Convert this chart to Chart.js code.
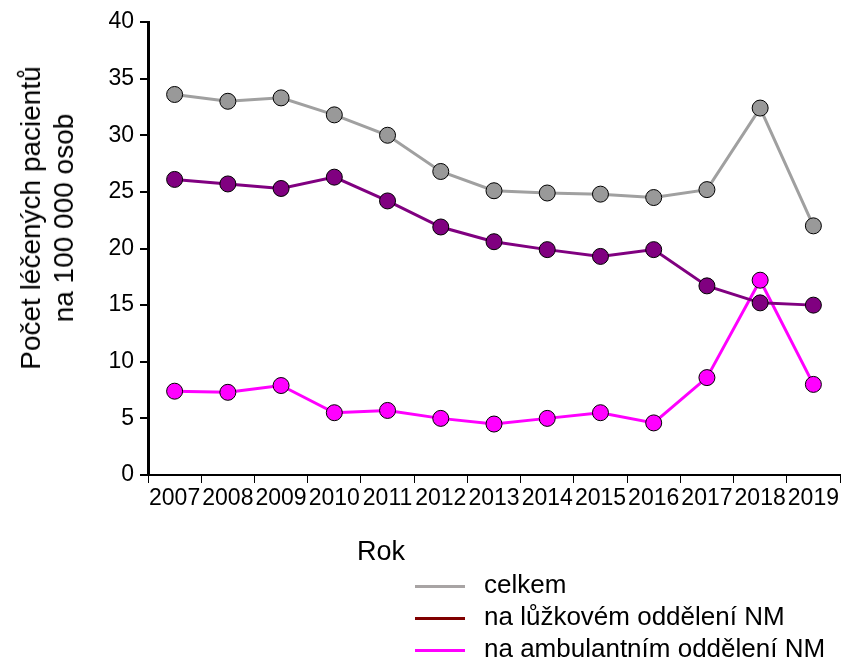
<!DOCTYPE html>
<html>
<head>
<meta charset="utf-8">
<script src="https://cdn.jsdelivr.net/npm/chart.js@4/dist/chart.umd.min.js"></script>
<style>
  html, body { margin: 0; padding: 0; background: #fff; }
  #wrap { position: relative; width: 849px; height: 664px; font-family: "Liberation Sans", Arial, sans-serif; color: #000; }
  #chart { position: absolute; left: 0; top: 0; }
  .ytitle { position: absolute; left: 47px; top: 218px; transform: translate(-50%, -50%) rotate(-90deg); font-size: 28px; line-height: 33px; text-align: center; white-space: nowrap; }
  .xtitle { position: absolute; left: 381px; top: 551px; transform: translate(-50%, -50%); font-size: 27px; }
  #legend { position: absolute; left: 415px; top: 568px; font-size: 26px; }
  #legend div { height: 32px; line-height: 32px; white-space: nowrap; }
  #legend span.sw { display: inline-block; width: 50px; height: 3px; vertical-align: middle; margin-right: 19px; }
</style>
</head>
<body>
<div id="wrap">
  <canvas id="chart" width="849" height="664"></canvas>
  <div class="ytitle">Počet léčených pacientů<br>na 100 000 osob</div>
  <div class="xtitle">Rok</div>
  <div id="legend"></div>
</div>
<script>
const years = ['2007','2008','2009','2010','2011','2012','2013','2014','2015','2016','2017','2018','2019'];
const celkem = [33.6, 33.0, 33.3, 31.8, 30.0, 26.8, 25.1, 24.9, 24.8, 24.5, 25.2, 32.4, 22.0];
const luzkove = [26.1, 25.7, 25.3, 26.3, 24.2, 21.9, 20.6, 19.9, 19.3, 19.9, 16.7, 15.2, 15.0];
const ambulantni = [7.4, 7.3, 7.9, 5.5, 5.7, 5.0, 4.5, 5.0, 5.5, 4.6, 8.6, 17.2, 8.0];
const yTicks = [0, 5, 10, 15, 20, 25, 30, 35, 40];

const legendItems = [
    ['celkem', '#a8a4a4'],
    ['na lůžkovém oddělení NM', '#800000'],
    ['na ambulantním oddělení NM', '#ff00ff']
];
document.getElementById('legend').innerHTML = legendItems
    .map(it => '<div><span class="sw" style="background:' + it[1] + '"></span>' + it[0] + '</div>')
    .join('');

function series(label, data, line, fill) {
    return {
        label: label,
        data: data,
        borderColor: line,
        borderWidth: 3,
        backgroundColor: fill,
        pointBackgroundColor: fill,
        pointBorderColor: '#000',
        pointBorderWidth: 1,
        pointRadius: 8,
        tension: 0
    };
}

new Chart(document.getElementById('chart'), {
    type: 'line',
    data: {
        labels: years,
        datasets: [
            series('celkem', celkem, '#a0a0a0', '#999999'),
            series('na lůžkovém oddělení NM', luzkove, '#800080', '#800080'),
            series('na ambulantním oddělení NM', ambulantni, '#ff00ff', '#ff00ff')
        ]
    },
    options: {
        responsive: false,
        animation: false,
        layout: { padding: { top: 22, right: 2, left: 0, bottom: 0 } },
        scales: {
            x: {
                offset: true,
                grid: { offset: true, drawOnChartArea: false, drawTicks: true, tickLength: 8, color: '#000', lineWidth: 1 },
                border: { color: '#000', width: 2 },
                ticks: { color: '#000', font: { family: 'Liberation Sans', size: 23 }, autoSkip: false, maxRotation: 0, minRotation: 0, padding: 2 },
                afterFit: s => { s.height = 189; }
            },
            y: {
                min: 0,
                max: 40,
                afterBuildTicks: s => { s.ticks = yTicks.map(v => ({ value: v })); },
                grid: { drawOnChartArea: false, drawTicks: true, tickLength: 8, color: '#000', lineWidth: 2 },
                border: { color: '#000', width: 3 },
                ticks: { color: '#000', font: { family: 'Liberation Sans', size: 23 }, padding: 6 },
                afterFit: s => { s.width = 148; }
            }
        },
        plugins: {
            legend: { display: false },
            tooltip: { enabled: false }
        }
    }
});
</script>
</body>
</html>
